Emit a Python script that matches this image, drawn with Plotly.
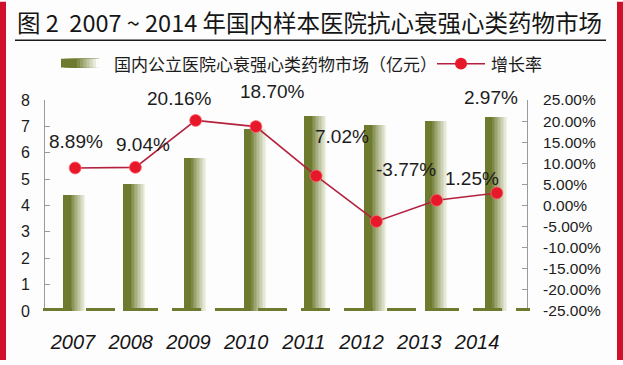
import plotly.graph_objects as go

# ---------------- data ----------------
years = ["2007", "2008", "2009", "2010", "2011", "2012", "2013", "2014"]
market = [4.40, 4.81, 5.79, 6.91, 7.38, 7.07, 7.19, 7.36]          # 亿元
growth = [8.89, 9.04, 20.16, 18.70, 7.02, -3.77, 1.25, 2.97]        # %
left_ticks = [0, 1, 2, 3, 4, 5, 6, 7, 8]
right_tickvals = [25, 20, 15, 10, 5, 0, -5, -10, -15, -20, -25]
right_ticktext = ["25.00%", "20.00%", "15.00%", "10.00%", "5.00%", "0.00%",
                  "-5.00%", "-10.00%", "-15.00%", "-20.00%", "-25.00%"]
bar_name = "国内公立医院心衰强心类药物市场（亿元）"
line_name = "增长率"
title_text = "图 2  2007 ~ 2014 年国内样本医院抗心衰强心类药物市场"

# label offsets (pixels) of the growth-rate labels relative to their points
label_dx = [1, 8, -16, 17, 26, 30, 35, -6]
label_dy = [26, 23, 22, 35, 39, 52, 22, 95]

# ---------------- style ----------------
W, H = 623, 365
ML, MR, MT, MB = 45, 96, 100, 50
PW, PH = W - ML - MR, H - MT - MB
OLIVE = (110, 122, 46)
WHITE = (252, 252, 248)
LINE_RED = "#B3213E"
MARK_RED = "#E8182B"
BORDER_RED = "#D0112B"
NUM_FONT = "Liberation Sans, Arial, sans-serif"
CJK_FONT = "Noto Sans CJK SC, sans-serif"


def px_x(p):
    return (p - ML) / PW


def px_y(p):
    return (H - MB - p) / PH


def mix(t):
    c = [round(OLIVE[i] * (1 - t) + WHITE[i] * t) for i in range(3)]
    return f"rgb({c[0]},{c[1]},{c[2]})"


fig = go.Figure()

# gradient bars: overlaid slices, each lighter and starting further right
K = 16
SOLID = 5
BAR_L, BAR_W = -0.2, 0.40
for k in range(K):
    t = 0.0 if k < SOLID else ((k - SOLID + 1) / (K - SOLID)) ** 0.9
    start = BAR_L + k * BAR_W / K
    wid = BAR_L + BAR_W - start
    fig.add_trace(go.Bar(
        x=years, y=market, offset=start, width=wid,
        marker=dict(color=mix(t), line=dict(width=0)),
        name=bar_name, showlegend=False, hoverinfo="skip" if k else "x+y",
        xaxis="x", yaxis="y",
    ))

# growth rate line
fig.add_trace(go.Scatter(
    x=years, y=growth, mode="lines+markers", name=line_name,
    line=dict(color=LINE_RED, width=1.6),
    marker=dict(color=MARK_RED, size=12, line=dict(color="rgba(255,110,120,0.7)", width=1)),
    xaxis="x", yaxis="y2", showlegend=False,
))

# invisible trace to carry the category labels axis
fig.add_trace(go.Scatter(
    x=years, y=market, mode="markers", marker=dict(opacity=0),
    xaxis="x2", yaxis="y", showlegend=False, hoverinfo="skip",
))

annotations = []
for i, g in enumerate(growth):
    annotations.append(dict(
        x=i, y=g, xref="x", yref="y2", text=f"{g:.2f}%", showarrow=False,
        xshift=label_dx[i], yshift=label_dy[i],
        font=dict(family=NUM_FONT, size=19, color="#1c1c1c"),
    ))

# title
annotations.append(dict(
    x=px_x(15), y=px_y(21), xref="paper", yref="paper", xanchor="left", yanchor="middle",
    text=title_text, showarrow=False,
    font=dict(family=CJK_FONT, size=23.5, color="#151515"),
))
# legend texts
annotations.append(dict(
    x=px_x(112), y=px_y(63), xref="paper", yref="paper", xanchor="left", yanchor="middle",
    text=bar_name, showarrow=False, font=dict(family=CJK_FONT, size=17, color="#1c1c1c"),
))
annotations.append(dict(
    x=px_x(489), y=px_y(63), xref="paper", yref="paper", xanchor="left", yanchor="middle",
    text=line_name, showarrow=False, font=dict(family=CJK_FONT, size=17, color="#1c1c1c"),
))

shapes = []
# red side borders
shapes.append(dict(type="rect", xref="paper", yref="paper", x0=px_x(0), x1=px_x(6),
                   y0=px_y(0), y1=px_y(H), fillcolor=BORDER_RED, line=dict(width=0), layer="below"))
shapes.append(dict(type="rect", xref="paper", yref="paper", x0=px_x(617), x1=px_x(W),
                   y0=px_y(0), y1=px_y(H), fillcolor=BORDER_RED, line=dict(width=0), layer="below"))
# title underline
shapes.append(dict(type="line", xref="paper", yref="paper", x0=px_x(15), x1=px_x(606),
                   y0=px_y(39), y1=px_y(39), line=dict(color="#1a1a1a", width=1.5)))
# legend: gradient swatch
NS = 12
for k in range(NS):
    t = 0.0 if k < 5 else (k - 4) / (NS - 5)
    x0 = 61 + k * 38 / NS
    shapes.append(dict(type="rect", xref="paper", yref="paper", x0=px_x(x0), x1=px_x(99),
                       y0=px_y(67), y1=px_y(58), fillcolor=mix(t), line=dict(width=0)))
# legend: line with marker
shapes.append(dict(type="line", xref="paper", yref="paper", x0=px_x(437), x1=px_x(485),
                   y0=px_y(63), y1=px_y(63), line=dict(color=LINE_RED, width=1.6)))
shapes.append(dict(type="circle", xref="paper", yref="paper", x0=px_x(455), x1=px_x(467),
                   y0=px_y(69), y1=px_y(57), fillcolor=MARK_RED, line=dict(width=0)))
# floor (3D base effect) along the zero line
shapes.append(dict(type="line", xref="paper", yref="y", x0=px_x(43), x1=px_x(530), y0=0, y1=0,
                   line=dict(color=mix(0), width=6, dash="29px,14px"), layer="above"))

axis_grey = "#9a9a9a"
fig.update_layout(
    width=W, height=H,
    margin=dict(l=ML, r=MR, t=MT, b=MB, pad=0),
    paper_bgcolor="#fdfdfd", plot_bgcolor="rgba(0,0,0,0)",
    barmode="overlay", bargap=0,
    showlegend=False,
    xaxis=dict(type="category", range=[-0.5, 7.5], showticklabels=False, ticks="",
               showgrid=False, zeroline=False, showline=False),
    xaxis2=dict(type="category", overlaying="x", side="bottom", anchor="y",
                range=[-0.485, 7.866], showgrid=False, zeroline=False, showline=False, ticks="",
                ticklabelstandoff=17,
                tickfont=dict(family=NUM_FONT, size=20, color="#151515", style="italic")),
    yaxis=dict(range=[0, 8], tickvals=left_ticks, showgrid=False, zeroline=False,
               showline=True, linecolor=axis_grey, linewidth=1,
               ticks="inside", ticklen=5, tickcolor=axis_grey, ticklabelstandoff=11,
               tickfont=dict(family=NUM_FONT, size=16, color="#1c1c1c")),
    yaxis2=dict(range=[-25, 25], overlaying="y", side="right", anchor="x",
                tickvals=right_tickvals, ticktext=right_ticktext, showgrid=False, zeroline=False,
                showline=True, linecolor=axis_grey, linewidth=1,
                ticks="inside", ticklen=5, tickcolor=axis_grey, ticklabelstandoff=12,
                tickfont=dict(family=NUM_FONT, size=15.5, color="#1c1c1c")),
    annotations=annotations,
    shapes=shapes,
)

fig.write_html("out.html", config={"displayModeBar": False},
               post_script="document.body.style.margin='0';document.body.style.overflow='hidden';")
